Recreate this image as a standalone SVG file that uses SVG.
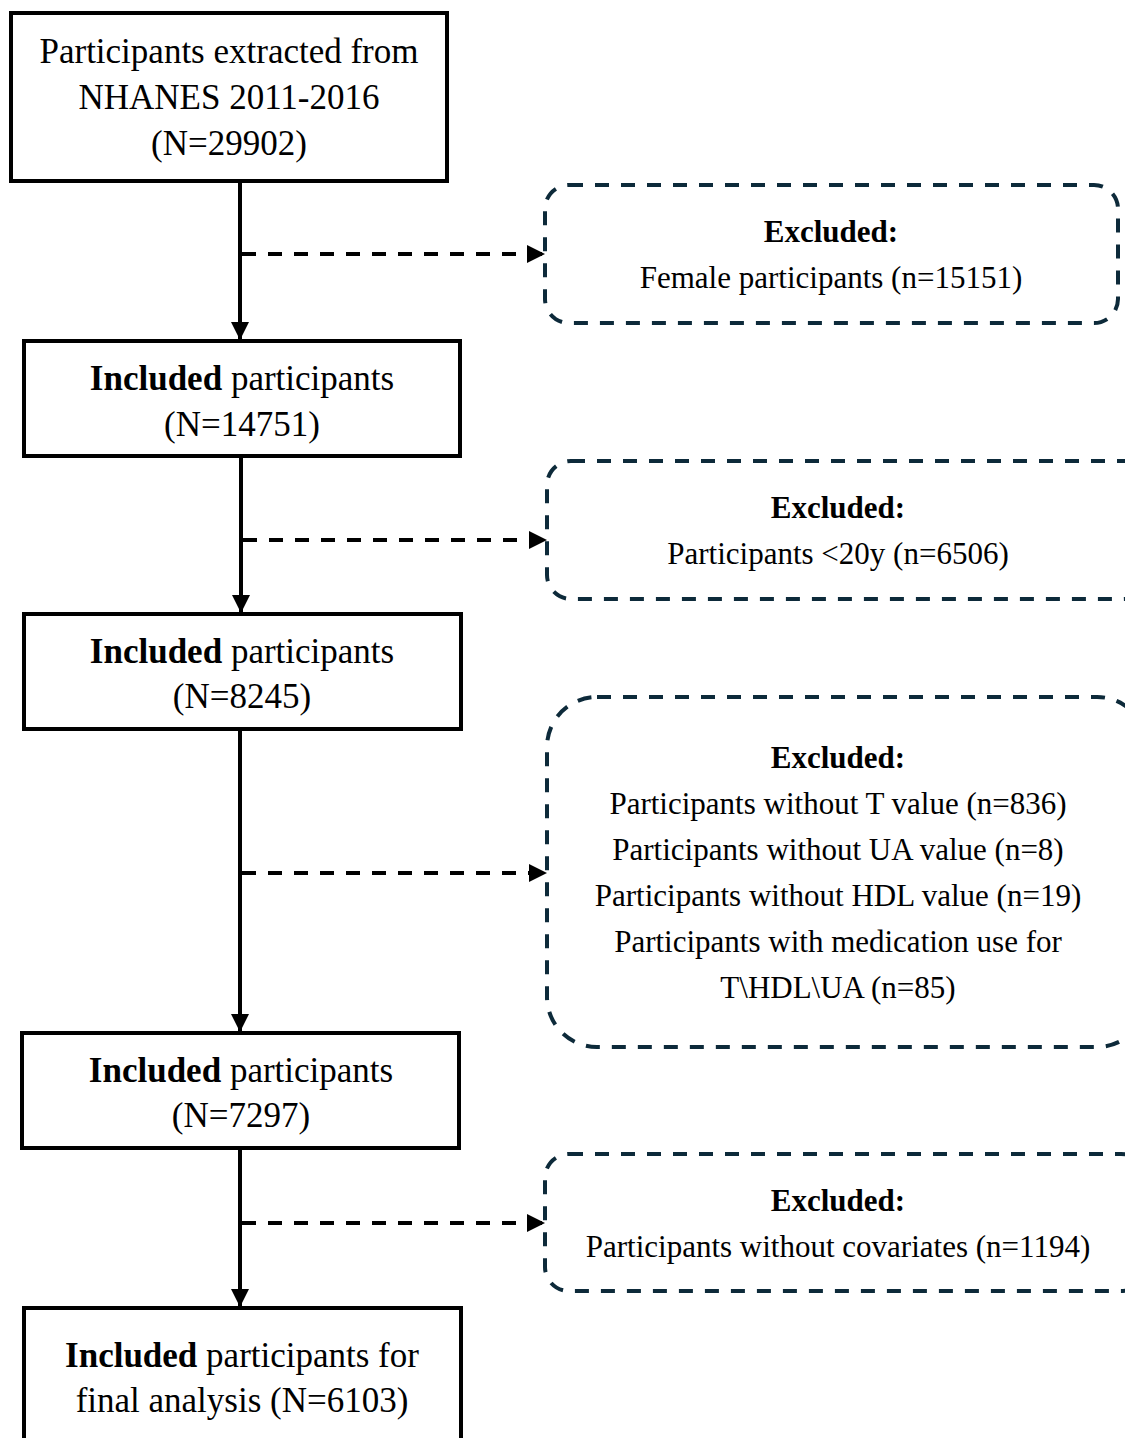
<svg xmlns="http://www.w3.org/2000/svg" width="1125" height="1438" viewBox="0 0 1125 1438">
<style>
.box{fill:#fff;stroke:#000;stroke-width:4}
.dbox{fill:#fff;stroke:#0d2a3a;stroke-width:4;stroke-dasharray:14 12}
.t{font-family:"Liberation Serif","Times New Roman",serif;font-size:31px;fill:#000;text-anchor:middle}
.L{font-size:35px}
.b{font-weight:bold}
.solid{stroke:#000;stroke-width:4;fill:none}
.dash{stroke:#000;stroke-width:4;fill:none;stroke-dasharray:14 12}
</style>
<defs>
<marker id="ah" viewBox="0 0 10 10" refX="10" refY="5" markerWidth="4.5" markerHeight="4.5" markerUnits="strokeWidth" orient="auto">
<path d="M0,0 L10,5 L0,10 z" fill="#000"/>
</marker>
</defs>
<rect width="1125" height="1438" fill="#fff"/>
<g id="connectors">
<line class="solid" x1="240" y1="181" x2="240" y2="340" marker-end="url(#ah)"/>
<line class="solid" x1="241" y1="456" x2="241" y2="613" marker-end="url(#ah)"/>
<line class="solid" x1="240" y1="729" x2="240" y2="1032" marker-end="url(#ah)"/>
<line class="solid" x1="240" y1="1148" x2="240" y2="1307" marker-end="url(#ah)"/>
<line class="dash" x1="242" y1="254" x2="545" y2="254" marker-end="url(#ah)"/>
<line class="dash" x1="243" y1="540" x2="547" y2="540" marker-end="url(#ah)"/>
<line class="dash" x1="242" y1="873" x2="547" y2="873" marker-end="url(#ah)"/>
<line class="dash" x1="242" y1="1223" x2="545" y2="1223" marker-end="url(#ah)"/>
</g>
<g id="n1">
<rect class="box" x="11" y="13" width="436" height="168"/>
<text class="t L" x="229" y="63">Participants extracted from</text>
<text class="t L" x="229" y="109">NHANES 2011-2016</text>
<text class="t L" x="229" y="155">(N=29902)</text>
</g>
<g id="n2">
<rect class="box" x="24" y="341" width="436" height="115"/>
<text class="t L" x="242" y="390"><tspan class="b">Included</tspan> participants</text>
<text class="t L" x="242" y="436">(N=14751)</text>
</g>
<g id="n3">
<rect class="box" x="24" y="614" width="437" height="115"/>
<text class="t L" x="242" y="663"><tspan class="b">Included</tspan> participants</text>
<text class="t L" x="242" y="708">(N=8245)</text>
</g>
<g id="n4">
<rect class="box" x="22" y="1033" width="437" height="115"/>
<text class="t L" x="241" y="1082"><tspan class="b">Included</tspan> participants</text>
<text class="t L" x="241" y="1127">(N=7297)</text>
</g>
<g id="n5">
<rect class="box" x="24" y="1308" width="437" height="150"/>
<text class="t L" x="242" y="1367"><tspan class="b">Included</tspan> participants for</text>
<text class="t L" x="242" y="1412">final analysis (N=6103)</text>
</g>
<g id="e1">
<rect class="dbox" x="545" y="185" width="573" height="138" rx="24"/>
<text class="t b" x="831" y="242">Excluded:</text>
<text class="t" x="831" y="288">Female participants (n=15151)</text>
</g>
<g id="e2">
<rect class="dbox" x="547" y="461" width="600" height="138" rx="24"/>
<text class="t b" x="838" y="518">Excluded:</text>
<text class="t" x="838" y="564">Participants &lt;20y (n=6506)</text>
</g>
<g id="e3">
<rect class="dbox" x="547" y="697" width="600" height="350" rx="50"/>
<text class="t b" x="838" y="768">Excluded:</text>
<text class="t" x="838" y="814">Participants without T value (n=836)</text>
<text class="t" x="838" y="860">Participants without UA value (n=8)</text>
<text class="t" x="838" y="906">Participants without HDL value (n=19)</text>
<text class="t" x="838" y="952">Participants with medication use for</text>
<text class="t" x="838" y="998">T\HDL\UA (n=85)</text>
</g>
<g id="e4">
<rect class="dbox" x="545" y="1154" width="600" height="137" rx="24"/>
<text class="t b" x="838" y="1211">Excluded:</text>
<text class="t" x="838" y="1257">Participants without covariates (n=1194)</text>
</g>
</svg>
